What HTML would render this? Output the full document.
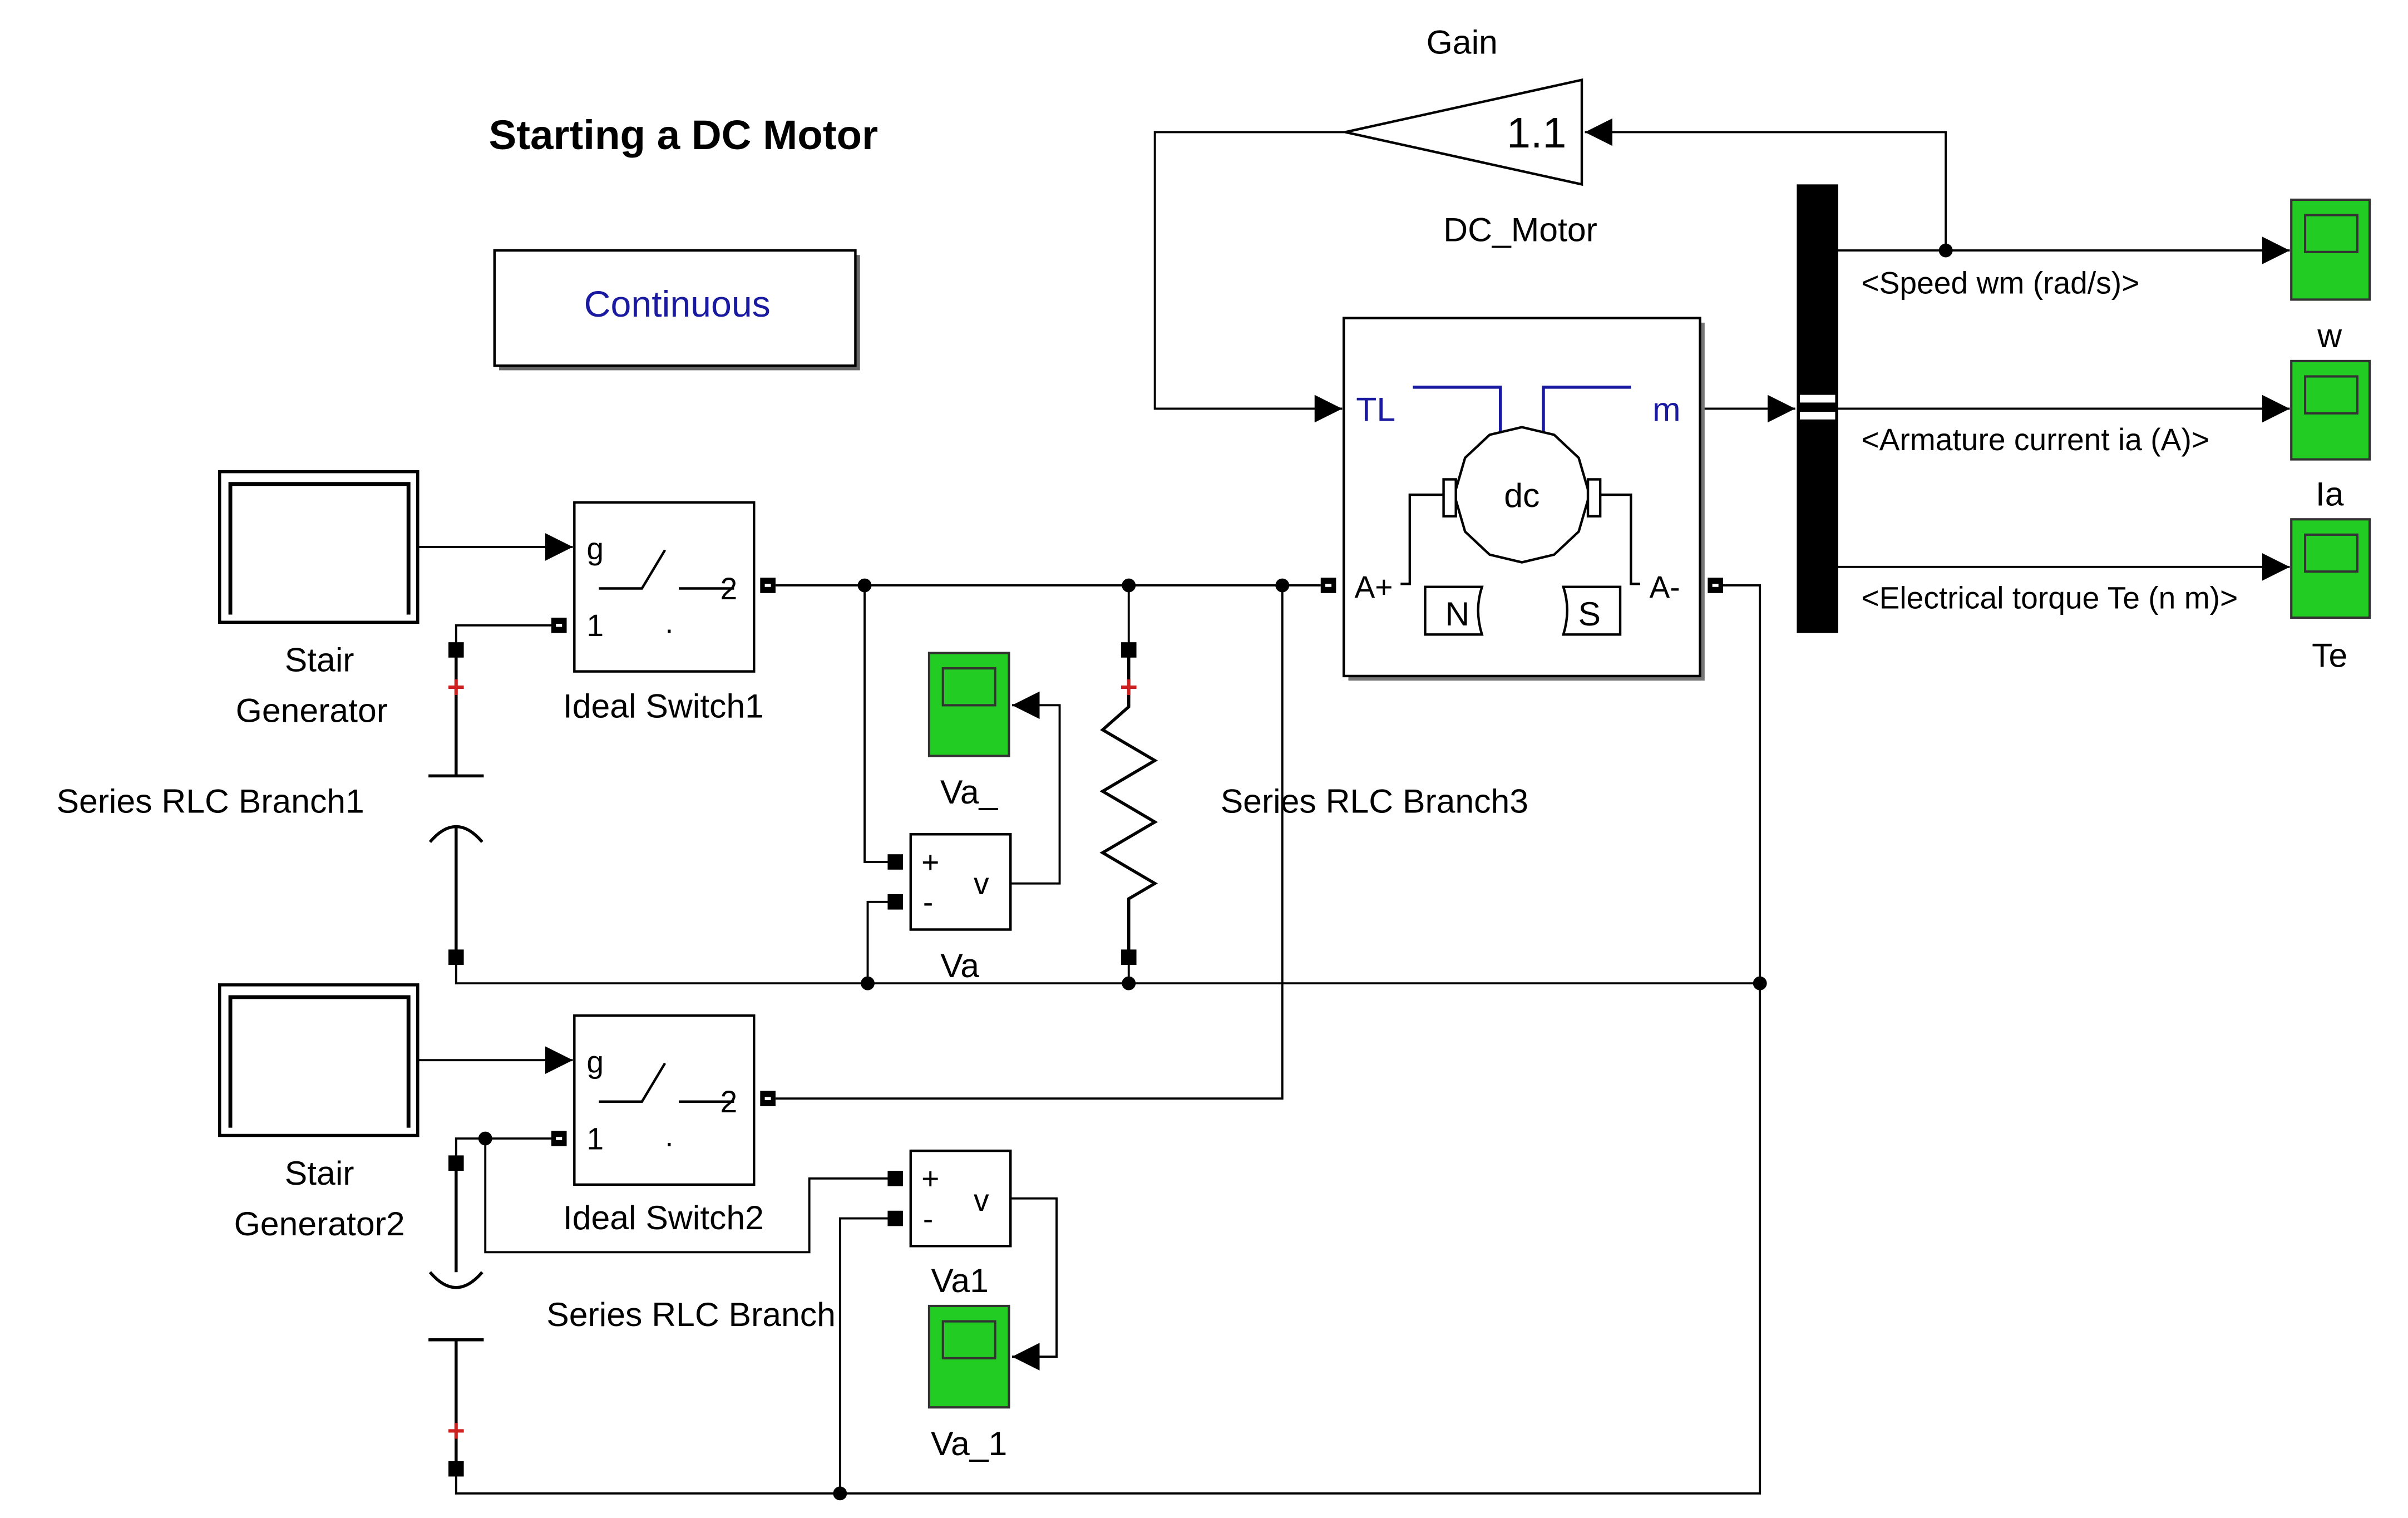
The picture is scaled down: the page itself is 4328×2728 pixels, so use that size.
<!DOCTYPE html>
<html><head><meta charset="utf-8"><style>html,body{margin:0;padding:0;background:#fff}svg{display:block}</style></head>
<body>
<svg width="4328" height="2728" viewBox="0 0 1568 988" preserveAspectRatio="none" xmlns="http://www.w3.org/2000/svg" font-family="Liberation Sans, sans-serif">
<defs>
<marker id="ar" viewBox="0 0 10 10" refX="10" refY="5" markerWidth="18" markerHeight="18" markerUnits="userSpaceOnUse" orient="auto"><path d="M0,0L10,5L0,10z" fill="#000"/></marker>
</defs>
<rect width="1568" height="988" fill="#fff"/>
<text x="445" y="97" font-size="27" font-weight="bold" text-anchor="middle">Starting a DC Motor</text>
<rect x="325" y="166" width="235" height="75" fill="#666"/>
<rect x="322" y="163" width="235" height="75" fill="#fff" stroke="#000" stroke-width="1.6"/>
<text x="441" y="206" font-size="24" fill="#1a1aa0" text-anchor="middle">Continuous</text>

<text x="952" y="35" font-size="22" text-anchor="middle">Gain</text>
<polygon points="876,86 1030,52 1030,120" fill="#fff" stroke="#000" stroke-width="1.6"/>
<text x="1020" y="96" font-size="28" text-anchor="end">1.1</text>
<text x="990" y="157" font-size="22" text-anchor="middle">DC_Motor</text>
<g fill="none" stroke="#000" stroke-width="1.4">
<polyline points="1267,163 1267,86 1032,86" marker-end="url(#ar)"/>
<polyline points="876,86 752,86 752,266 874,266" marker-end="url(#ar)"/>
<line x1="1107" y1="266" x2="1169" y2="266" marker-end="url(#ar)"/>
<line x1="1197" y1="163" x2="1491" y2="163" marker-end="url(#ar)"/>
<line x1="1197" y1="266" x2="1491" y2="266" marker-end="url(#ar)"/>
<line x1="1197" y1="369" x2="1491" y2="369" marker-end="url(#ar)"/>
</g>
<circle cx="1267" cy="163" r="4.5"/>

<rect x="878" y="210" width="232" height="233" fill="#777"/>
<rect x="875" y="207" width="232" height="233" fill="#fff" stroke="#000" stroke-width="1.6"/>
<text x="883" y="274" font-size="22" fill="#1a1aa0">TL</text>
<text x="1076" y="274" font-size="22" fill="#1a1aa0">m</text>
<g fill="none" stroke="#1a1aa0" stroke-width="2">
<polyline points="920,252 977,252 977,282"/>
<polyline points="1005,282 1005,252 1062,252"/>
</g>
<g fill="none" stroke="#000" stroke-width="1.6">
<polygon points="991,278 1012,283 1028,298 1035,322 1028,346 1012,361 991,366 970,361 954,346 947,322 954,298 970,283" fill="#fff"/>
<rect x="940" y="312" width="8" height="24" fill="#fff"/>
<rect x="1034" y="312" width="8" height="24" fill="#fff"/>
<polyline points="940,322 918,322 918,380 912,380"/>
<polyline points="1042,322 1062,322 1062,380 1068,380"/>
<path d="M928,382 L965,382 Q960,397 965,413 L928,413 Z"/>
<path d="M1055,382 L1018,382 Q1023,397 1018,413 L1055,413 Z"/>
</g>
<text x="991" y="330" font-size="22" text-anchor="middle">dc</text>
<text x="949" y="407" font-size="22" text-anchor="middle">N</text>
<text x="1035" y="407" font-size="22" text-anchor="middle">S</text>
<text x="882" y="389" font-size="20">A+</text>
<text x="1074" y="389" font-size="20">A-</text>

<rect x="1170" y="120" width="27" height="292" fill="#000"/>
<rect x="1172" y="257" width="23" height="5" fill="#fff"/>
<rect x="1172" y="268" width="23" height="5" fill="#fff"/>
<text x="1212" y="191" font-size="20">&lt;Speed wm (rad/s)&gt;</text>
<text x="1212" y="293" font-size="20">&lt;Armature current ia (A)&gt;</text>
<text x="1212" y="396" font-size="20">&lt;Electrical torque Te (n m)&gt;</text>

<g stroke="#333" stroke-width="1.5">
<rect x="1492" y="130" width="51" height="65" fill="#22cc22"/><rect x="1501" y="140" width="34" height="24" fill="#22cc22"/>
<rect x="1492" y="235" width="51" height="64" fill="#22cc22"/><rect x="1501" y="245" width="34" height="24" fill="#22cc22"/>
<rect x="1492" y="338" width="51" height="64" fill="#22cc22"/><rect x="1501" y="348" width="34" height="24" fill="#22cc22"/>
<rect x="605" y="425" width="52" height="67" fill="#22cc22"/><rect x="614" y="435" width="34" height="24" fill="#22cc22"/>
<rect x="605" y="850" width="52" height="66" fill="#22cc22"/><rect x="614" y="860" width="34" height="24" fill="#22cc22"/>
</g>
<text x="1517" y="226" font-size="22" text-anchor="middle">w</text>
<text x="1517" y="329" font-size="22" text-anchor="middle">Ia</text>
<text x="1517" y="434" font-size="22" text-anchor="middle">Te</text>
<text x="631" y="523" font-size="22" text-anchor="middle">Va_</text>
<text x="631" y="947" font-size="22" text-anchor="middle">Va_1</text>

<g fill="#fff" stroke="#000">
<rect x="143" y="307" width="129" height="98" stroke-width="2"/>
<polyline points="150,400 150,315 266,315 266,400" fill="none" stroke-width="2.5"/>
<rect x="143" y="641" width="129" height="98" stroke-width="2"/>
<polyline points="150,734 150,649 266,649 266,734" fill="none" stroke-width="2.5"/>
</g>
<text x="208" y="437" font-size="22" text-anchor="middle">Stair</text>
<text x="203" y="470" font-size="22" text-anchor="middle">Generator</text>
<text x="208" y="771" font-size="22" text-anchor="middle">Stair</text>
<text x="208" y="804" font-size="22" text-anchor="middle">Generator2</text>

<g fill="#fff" stroke="#000" stroke-width="1.6">
<rect x="374" y="327" width="117" height="110"/>
<rect x="374" y="661" width="117" height="110"/>
</g>
<g fill="none" stroke="#000" stroke-width="1.6">
<polyline points="390,383 418,383 433,358"/><line x1="442" y1="383" x2="478" y2="383"/>
<polyline points="390,717 418,717 433,692"/><line x1="442" y1="717" x2="478" y2="717"/>
</g>
<g font-size="20">
<text x="382" y="364">g</text><text x="469" y="390">2</text><text x="382" y="414">1</text><text x="433" y="412">.</text>
<text x="382" y="698">g</text><text x="469" y="724">2</text><text x="382" y="748">1</text><text x="433" y="746">.</text>
</g>
<text x="432" y="467" font-size="22" text-anchor="middle">Ideal Switch1</text>
<text x="432" y="800" font-size="22" text-anchor="middle">Ideal Switch2</text>

<g fill="#fff" stroke="#000" stroke-width="1.6">
<rect x="593" y="543" width="65" height="62"/>
<rect x="593" y="749" width="65" height="62"/>
</g>
<g font-size="20">
<text x="600" y="568">+</text><text x="601" y="594">-</text><text x="634" y="582">v</text>
<text x="600" y="774">+</text><text x="601" y="800">-</text><text x="634" y="788">v</text>
</g>
<text x="625" y="636" font-size="22" text-anchor="middle">Va</text>
<text x="625" y="841" font-size="22" text-anchor="middle">Va1</text>

<g fill="none" stroke="#000" stroke-width="1.4">
<line x1="272" y1="356" x2="373" y2="356" marker-end="url(#ar)"/>
<line x1="272" y1="690" x2="373" y2="690" marker-end="url(#ar)"/>
<line x1="505" y1="381" x2="860" y2="381"/>
<polyline points="364,407 297,407 297,423"/>
<polyline points="563,381 563,561 583,561"/>
<polyline points="583,587 565,587 565,640"/>
<polyline points="658,575 690,575 690,459 659,459" marker-end="url(#ar)"/>
<polyline points="658,780 688,780 688,883 659,883" marker-end="url(#ar)"/>
<polyline points="297,623 297,640 1146,640"/>
<polyline points="1117,381 1146,381 1146,972 297,972 297,956"/>
<polyline points="835,381 835,715 505,715"/>
<polyline points="364,741 297,741 297,757"/>
<polyline points="316,741 316,815 527,815 527,767 583,767"/>
<polyline points="583,793 547,793 547,972"/>
<line x1="297" y1="427" x2="297" y2="505" stroke-width="2"/>
<line x1="279" y1="505" x2="315" y2="505" stroke-width="2"/>
<path d="M280,548 Q297,528 314,548" stroke-width="2"/>
<line x1="297" y1="538" x2="297" y2="620" stroke-width="2"/>
<line x1="735" y1="381" x2="735" y2="420"/>
<polyline points="735,427 735,460 718,475 752,495 718,515 752,535 718,555 752,575 735,585 735,620" stroke-width="2"/>
<line x1="735" y1="626" x2="735" y2="640"/>
<line x1="297" y1="760" x2="297" y2="828" stroke-width="2"/>
<path d="M280,828 Q297,848 314,828" stroke-width="2"/>
<line x1="279" y1="872" x2="315" y2="872" stroke-width="2"/>
<line x1="297" y1="872" x2="297" y2="953" stroke-width="2"/>
</g>
<text x="137" y="529" font-size="22" text-anchor="middle">Series RLC Branch1</text>
<text x="895" y="529" font-size="22" text-anchor="middle">Series RLC Branch3</text>
<text x="450" y="863" font-size="22" text-anchor="middle">Series RLC Branch</text>
<g fill="#cc2222" font-size="20" font-weight="bold" text-anchor="middle">
<text x="297" y="454">+</text><text x="735" y="454">+</text><text x="297" y="938">+</text>
</g>
<g fill="#000">
<circle cx="563" cy="381" r="4.5"/><circle cx="735" cy="381" r="4.5"/><circle cx="835" cy="381" r="4.5"/>
<circle cx="565" cy="640" r="4.5"/><circle cx="735" cy="640" r="4.5"/><circle cx="1146" cy="640" r="4.5"/>
<circle cx="316" cy="741" r="4.5"/><circle cx="547" cy="972" r="4.5"/>
</g>
<g fill="#000">
<rect x="495" y="376" width="10" height="10"/><rect x="359" y="402" width="10" height="10"/>
<rect x="495" y="710" width="10" height="10"/><rect x="359" y="736" width="10" height="10"/>
<rect x="860" y="376" width="10" height="10"/><rect x="1112" y="376" width="10" height="10"/>
<rect x="292" y="418" width="10" height="10"/><rect x="292" y="618" width="10" height="10"/>
<rect x="730" y="418" width="10" height="10"/><rect x="730" y="618" width="10" height="10"/>
<rect x="292" y="752" width="10" height="10"/><rect x="292" y="951" width="10" height="10"/>
<rect x="578" y="556" width="10" height="10"/><rect x="578" y="582" width="10" height="10"/>
<rect x="578" y="762" width="10" height="10"/><rect x="578" y="788" width="10" height="10"/>
</g>
<g fill="#fff">
<rect x="498" y="380" width="4" height="2"/><rect x="362" y="406" width="4" height="2"/>
<rect x="498" y="714" width="4" height="2"/><rect x="362" y="740" width="4" height="2"/>
<rect x="863" y="380" width="4" height="2"/><rect x="1115" y="380" width="4" height="2"/>
</g>
</svg>
</body></html>
